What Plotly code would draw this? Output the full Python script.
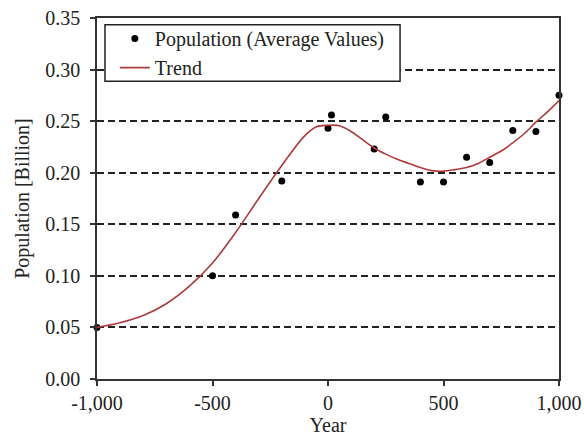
import plotly.graph_objects as go

# Observed points
years = [-1000, -500, -400, -200, 0, 15, 200, 250, 400, 500, 600, 700, 800, 900, 1000]
population = [0.050, 0.100, 0.159, 0.192, 0.243, 0.256, 0.223, 0.254, 0.191, 0.191, 0.215, 0.210, 0.241, 0.240, 0.275]

# Trend line
trend_years = [-1000, -900, -800, -700, -600, -500, -400, -300, -200, -100, -50, 0, 50, 100, 150, 200,
               250, 300, 350, 400, 450, 500, 550, 600, 650, 700, 750, 800, 850, 900, 950, 1000]
trend_values = [0.050, 0.0545, 0.0615, 0.073, 0.090, 0.1125, 0.142, 0.175, 0.207, 0.236, 0.2446, 0.246, 0.2456,
                0.240, 0.232, 0.224, 0.218, 0.213, 0.209, 0.205, 0.202, 0.2015, 0.203, 0.205, 0.209, 0.215,
                0.221, 0.229, 0.238, 0.249, 0.259, 0.270]

x_tickvals = [-1000, -500, 0, 500, 1000]
x_ticktext = ["-1,000", "-500", "0", "500", "1,000"]
y_tickvals = [0.00, 0.05, 0.10, 0.15, 0.20, 0.25, 0.30, 0.35]
y_ticktext = ["0.00", "0.05", "0.10", "0.15", "0.20", "0.25", "0.30", "0.35"]

FONT = "Liberation Serif, Times New Roman, serif"
FS = 20

fig = go.Figure()
fig.add_trace(go.Scatter(
    x=years, y=population, mode="markers", name="Population (Average Values)",
    marker=dict(color="black", size=7), cliponaxis=False,
))
fig.add_trace(go.Scatter(
    x=trend_years, y=trend_values, mode="lines", name="Trend",
    line=dict(color="#B03A3A", width=1.6, shape="spline", smoothing=1.0),
))

axis_common = dict(
    showline=True, linecolor="#333333", linewidth=1.5, mirror=True,
    ticks="outside", ticklen=5, tickwidth=1.5, tickcolor="#333333",
    tickfont=dict(family=FONT, size=FS, color="#222222"),
    zeroline=False, automargin=False,
)

fig.update_xaxes(
    range=[-1000, 1000], tickvals=x_tickvals, ticktext=x_ticktext,
    showgrid=False,
    title=dict(text="Year", font=dict(family=FONT, size=FS, color="#222222"), standoff=4),
    **axis_common,
)
fig.update_yaxes(
    range=[0, 0.35], tickvals=y_tickvals, ticktext=y_ticktext,
    showgrid=True, gridcolor="#222222", gridwidth=1.5, griddash="7px,4px",
    ticklabelstandoff=6,
    title=dict(text="Population [Billion]", font=dict(family=FONT, size=FS, color="#222222"), standoff=10),
    **axis_common,
)

# legend frame (drawn as a shape so its padding matches the reference)
fig.add_shape(
    type="rect", xref="paper", yref="paper",
    x0=0.0173, x1=0.656, y0=0.825, y1=0.981,
    line=dict(color="#222222", width=1.5), fillcolor="white", layer="above",
)

fig.update_layout(
    width=584, height=437,
    margin=dict(l=97, r=25, t=18, b=58),
    paper_bgcolor="white", plot_bgcolor="white",
    font=dict(family=FONT, size=FS, color="#222222"),
    legend=dict(
        x=0.0386, y=0.997, xanchor="left", yanchor="top",
        bgcolor="rgba(0,0,0,0)", borderwidth=0,
        font=dict(family=FONT, size=FS, color="#222222"),
        tracegroupgap=0, itemwidth=30,
    ),
    showlegend=True,
)

fig.write_html(
    "out.html",
    config={"displayModeBar": False},
    post_script="document.body.style.margin='0px';document.body.style.overflow='hidden';",
)
